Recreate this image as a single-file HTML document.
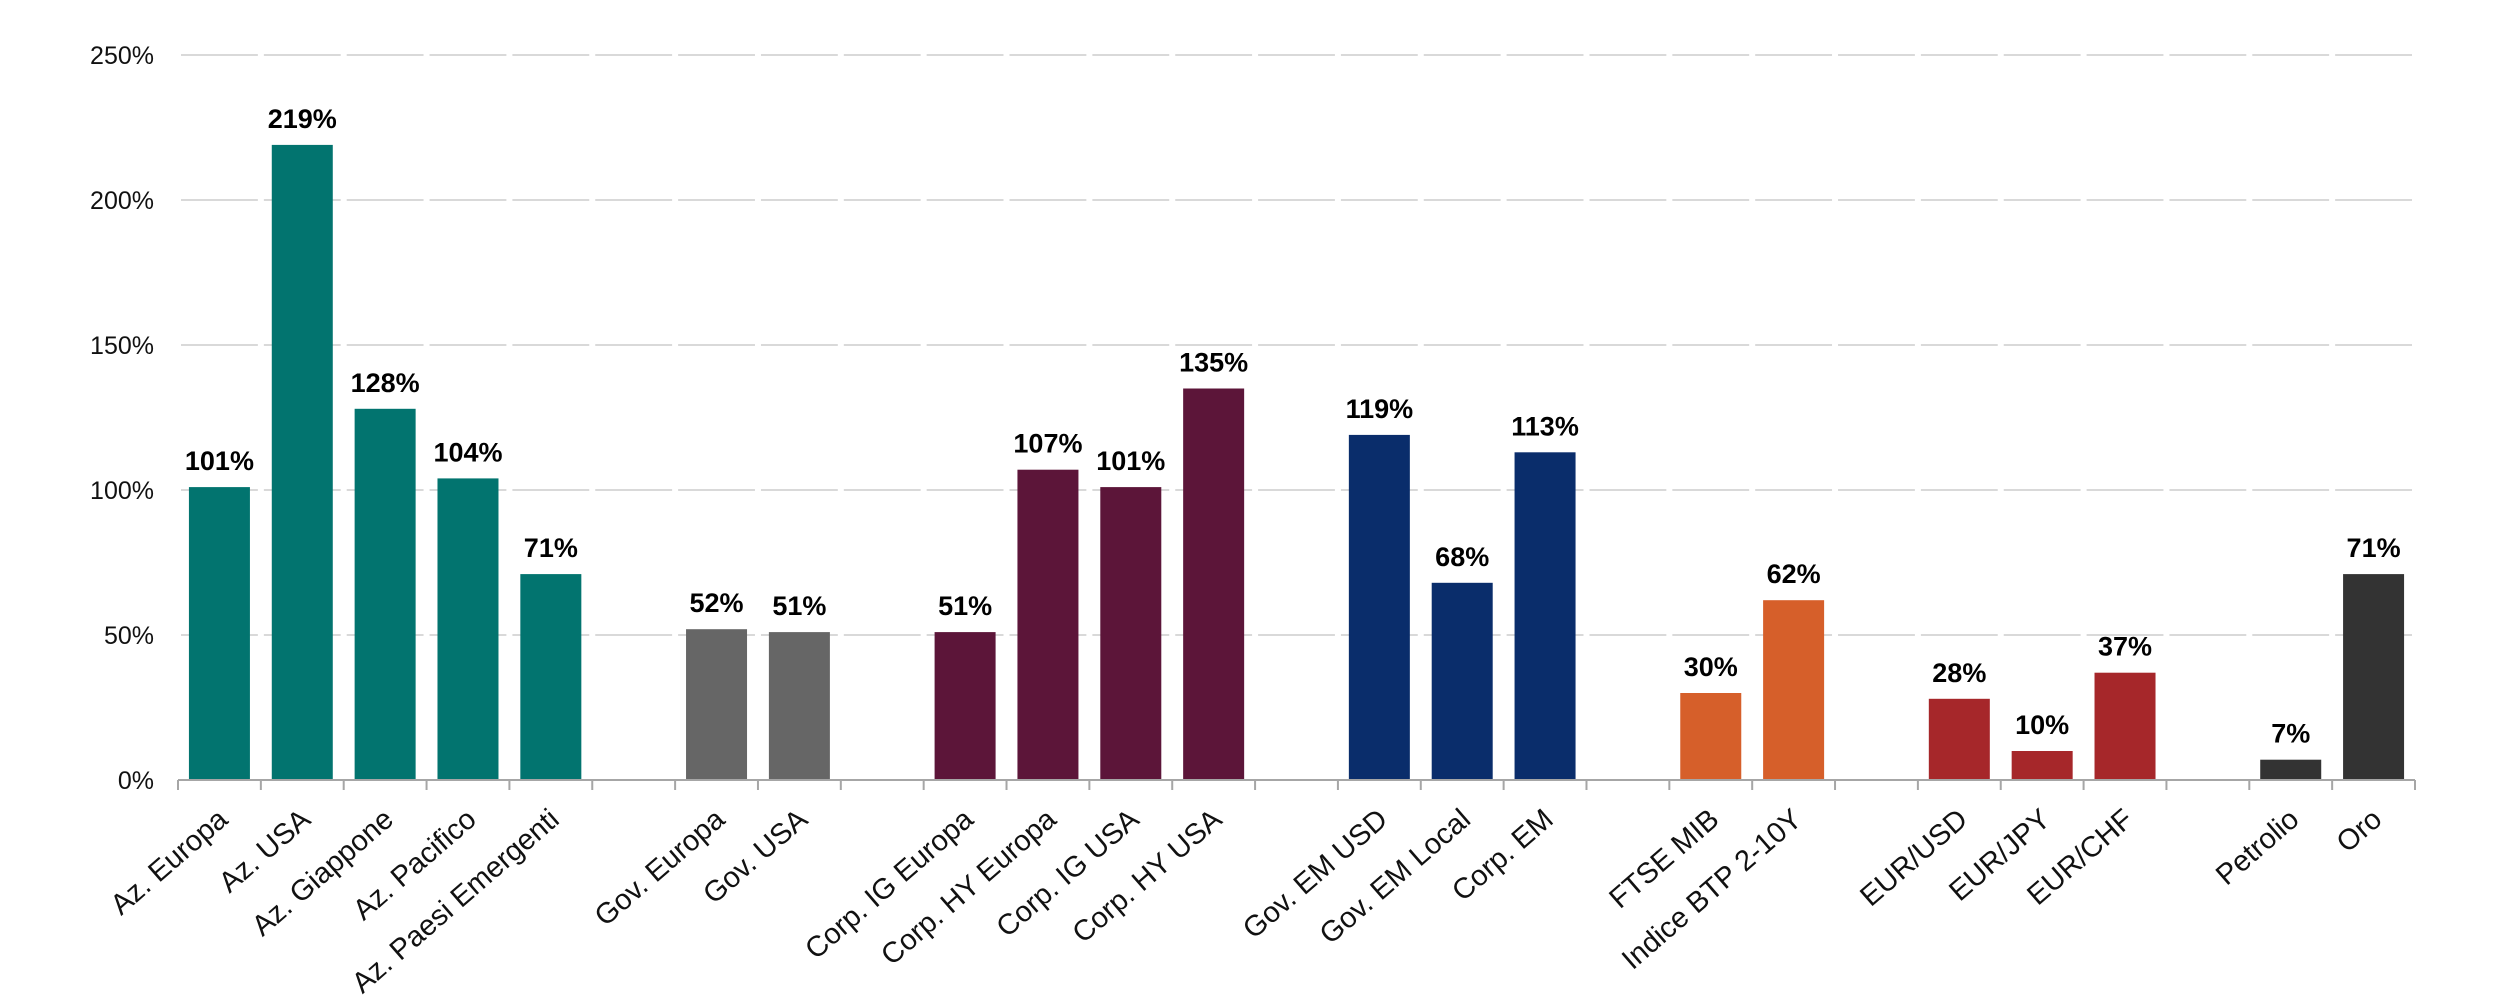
<!DOCTYPE html>
<html><head><meta charset="utf-8"><style>
html,body{margin:0;padding:0;background:#fff;}
svg{display:block;}
text{font-family:"Liberation Sans",sans-serif;}
</style></head><body>
<svg id="c" width="2520" height="1008" xmlns="http://www.w3.org/2000/svg">
<g id="grid"></g>
<g id="bars"></g>
<g id="ax"></g>
</svg>
<script>
const NS="http://www.w3.org/2000/svg";
const L=178,R=2415,Y0=780,K=2.9,N=27,S=(R-L)/N,BW=61;
const data=[
["Az. Europa",101,0,"#02746F"],["Az. USA",219,1,"#02746F"],["Az. Giappone",128,2,"#02746F"],["Az. Pacifico",104,3,"#02746F"],["Az. Paesi Emergenti",71,4,"#02746F"],
["Gov. Europa",52,6,"#666666"],["Gov. USA",51,7,"#666666"],
["Corp. IG Europa",51,9,"#5C1539"],["Corp. HY Europa",107,10,"#5C1539"],["Corp. IG USA",101,11,"#5C1539"],["Corp. HY USA",135,12,"#5C1539"],
["Gov. EM USD",119,14,"#0A2D6B"],["Gov. EM Local",68,15,"#0A2D6B"],["Corp. EM",113,16,"#0A2D6B"],
["FTSE MIB",30,18,"#D65F2A"],["Indice BTP 2-10Y",62,19,"#D65F2A"],
["EUR/USD",28,21,"#A6272A"],["EUR/JPY",10,22,"#A6272A"],["EUR/CHF",37,23,"#A6272A"],
["Petrolio",7,25,"#333333"],["Oro",71,26,"#333333"]];
function el(p,t,a,txt){const e=document.createElementNS(NS,t);for(const k in a)e.setAttribute(k,a[k]);if(txt!==undefined)e.textContent=txt;document.getElementById(p).appendChild(e);return e;}
for(let v=0;v<=250;v+=50){const y=Y0-v*K;
 if(v>0)el("grid","line",{x1:L,x2:R,y1:y,y2:y,stroke:"#d9d9d9","stroke-width":2,"stroke-dasharray":(S-6)+" 6","stroke-dashoffset":-3});
 el("ax","text",{x:154,y:y+9,"text-anchor":"end","font-size":25,fill:"#111"},v+"%");}
for(const [n,v,i,c] of data){const cx=L+S*(i+0.5),h=v*K;
 el("bars","rect",{x:cx-BW/2,y:Y0-h,width:BW,height:h,fill:c});
 el("ax","text",{x:cx,y:Y0-h-17,"text-anchor":"middle","font-size":27,"font-weight":"bold",fill:"#000"},v+"%");
 el("ax","text",{x:cx+10,y:822,"text-anchor":"end","font-size":29,fill:"#111",transform:`rotate(-41 ${cx+10} 822)`},n);}
el("ax","line",{x1:L,x2:R,y1:Y0,y2:Y0,stroke:"#a6a6a6","stroke-width":2});
for(let i=0;i<=N;i++){const x=L+S*i;el("ax","line",{x1:x,x2:x,y1:Y0,y2:Y0+10,stroke:"#a6a6a6","stroke-width":2});}
</script>
</body></html>
